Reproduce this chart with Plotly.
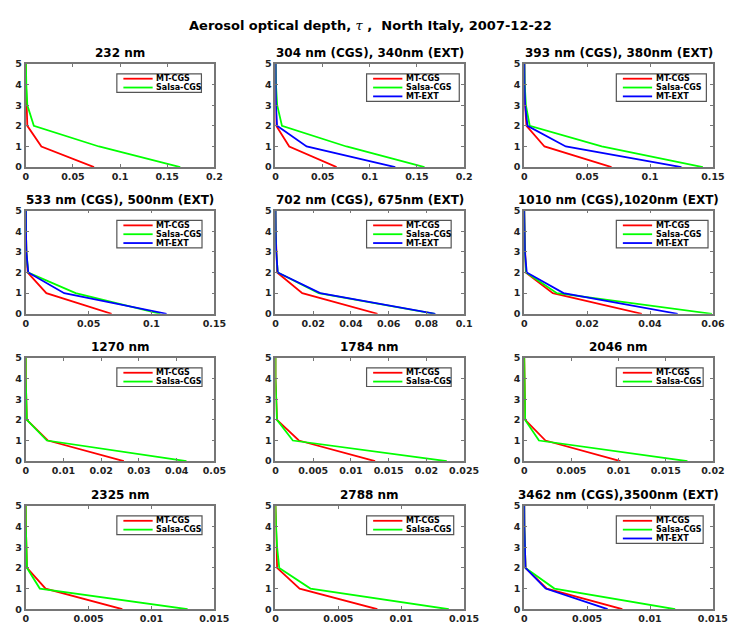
import plotly.graph_objects as go

# ---------------------------------------------------------------- data
altitude = [0, 1, 2, 3, 4, 5]

panel_titles = [
    "232 nm",
    "304 nm (CGS), 340nm (EXT)",
    "393 nm (CGS), 380nm (EXT)",
    "533 nm (CGS), 500nm (EXT)",
    "702 nm (CGS), 675nm (EXT)",
    "1010 nm (CGS),1020nm (EXT)",
    "1270 nm",
    "1784 nm",
    "2046 nm",
    "2325 nm",
    "2788 nm",
    "3462 nm (CGS),3500nm (EXT)",
]

mt_cgs = [
    [0.0724, 0.0166, 0.0017, 0.0007, 0.0003, 0.0001],
    [0.0648, 0.0146, 0.0008, 0.0003, 0.0001, 0.0],
    [0.0694, 0.0161, 0.0018, 0.0006, 0.0002, 0.0001],
    [0.0683, 0.0164, 0.0016, 0.0005, 0.0002, 0.0001],
    [0.0541, 0.0142, 0.0009, 0.0003, 0.0001, 0.0],
    [0.0374, 0.0091, 0.0005, 0.0002, 0.0001, 0.0],
    [0.0260, 0.0059, 0.0003, 0.0001, 0.0, 0.0],
    [0.0132, 0.0031, 0.0002, 0.0001, 0.0, 0.0],
    [0.0102, 0.00225, 0.0001, 0.00004, 0.00001, 0.0],
    [0.00768, 0.00158, 0.0001, 0.00003, 0.00001, 0.0],
    [0.0081, 0.00192, 0.00013, 0.00008, 0.00003, 0.0],
    [0.0078, 0.0018, 0.0001, 0.00004, 0.00001, 0.0],
]

salsa_cgs = [
    [0.1638, 0.0776, 0.0086, 0.0017, 0.0006, 0.0002],
    [0.1580, 0.0752, 0.0069, 0.0018, 0.0005, 0.0002],
    [0.1420, 0.0616, 0.0044, 0.0013, 0.0004, 0.0001],
    [0.1070, 0.0397, 0.0020, 0.0005, 0.0002, 0.0001],
    [0.0844, 0.0229, 0.0012, 0.0004, 0.0001, 0.0],
    [0.0597, 0.0104, 0.0006, 0.0002, 0.0001, 0.0],
    [0.0426, 0.0056, 0.0003, 0.0001, 0.0, 0.0],
    [0.0227, 0.0023, 0.0002, 0.0001, 0.0, 0.0],
    [0.0173, 0.00156, 0.0001, 0.00004, 0.00001, 0.0],
    [0.01287, 0.00112, 0.0001, 0.00003, 0.00001, 0.0],
    [0.01378, 0.00278, 0.0003, 0.00013, 0.00005, 0.0],
    [0.0120, 0.0024, 0.0001, 0.00004, 0.00001, 0.0],
]

mt_ext = [
    None,
    [0.1270, 0.0330, 0.0017, 0.0005, 0.0002, 0.0001],
    [0.1250, 0.0330, 0.0026, 0.0007, 0.0002, 0.0001],
    [0.1120, 0.0306, 0.0020, 0.0005, 0.0002, 0.0001],
    [0.0848, 0.0237, 0.0012, 0.0004, 0.0001, 0.0],
    [0.0488, 0.0125, 0.0008, 0.0002, 0.0001, 0.0],
    None,
    None,
    None,
    None,
    None,
    [0.00663, 0.0017, 0.0001, 0.00004, 0.00001, 0.0],
]

x_tickvals = [
    [0, 0.05, 0.1, 0.15, 0.2],
    [0, 0.05, 0.1, 0.15, 0.2],
    [0, 0.05, 0.1, 0.15],
    [0, 0.05, 0.1, 0.15],
    [0, 0.02, 0.04, 0.06, 0.08, 0.1],
    [0, 0.02, 0.04, 0.06],
    [0, 0.01, 0.02, 0.03, 0.04, 0.05],
    [0, 0.005, 0.01, 0.015, 0.02, 0.025],
    [0, 0.005, 0.01, 0.015, 0.02],
    [0, 0.005, 0.01, 0.015],
    [0, 0.005, 0.01, 0.015],
    [0, 0.005, 0.01, 0.015],
]
y_tickvals = [0, 1, 2, 3, 4, 5]

series_names = ["MT-CGS", "Salsa-CGS", "MT-EXT"]
series_colors = ["#ff0000", "#00ff00", "#0000ff"]

# ---------------------------------------------------------------- layout geometry (px)
W, H = 736, 626
col_left = [23.3, 279.3, 534.3]
row_top = [59.0, 208.3, 358.3, 509.0]
plot_w, plot_h = 193.4, 105.0

# legend box: gap from the right frame edge and box width, per panel (px)
legend_gap = [13.3, 5.0, 6.7, 12.7, 13.3, 5.0, 12.7, 13.3, 10.0, 12.7, 10.7, 10.0]
legend_width = [86.7, 95.0, 92.3, 87.3, 86.7, 94.0, 87.3, 86.7, 89.0, 87.3, 89.3, 89.0]

FONT = "DejaVu Sans"
FRAME = "#767676"

fig = go.Figure()
shapes, annotations = [], []

for i in range(12):
    n = i + 1
    r, c = divmod(i, 3)
    xa = "x" if n == 1 else f"x{n}"
    ya = "y" if n == 1 else f"y{n}"
    left, top = col_left[c], row_top[r]

    series = [mt_cgs[i], salsa_cgs[i], mt_ext[i]]
    for s, vals in enumerate(series):
        if vals is None:
            continue
        fig.add_trace(go.Scatter(
            x=vals, y=altitude, mode="lines", name=series_names[s],
            line=dict(color=series_colors[s], width=1.8),
            xaxis=xa, yaxis=ya, showlegend=False, cliponaxis=True,
        ))

    axis_common = dict(
        showline=True, mirror="allticks", linecolor=FRAME, linewidth=1.7,
        ticks="inside", ticklen=3, tickwidth=1, tickcolor=FRAME,
        showgrid=False, zeroline=False,
        tickfont=dict(family=FONT, size=9.5, color="#222222", weight="bold"),
    )
    fig.layout[f"xaxis{'' if n == 1 else n}"] = dict(
        axis_common,
        domain=[left / W, (left + plot_w) / W],
        anchor=ya, range=[0, x_tickvals[i][-1]],
        tickvals=x_tickvals[i], ticktext=[f"{v:g}" for v in x_tickvals[i]],
    )
    fig.layout[f"yaxis{'' if n == 1 else n}"] = dict(
        axis_common,
        domain=[1 - (top + plot_h) / H, 1 - top / H],
        anchor=xa, range=[0, 5], tickvals=y_tickvals,
        ticklabelstandoff=0,
    )

    # panel title
    annotations.append(dict(
        text=f"<b>{panel_titles[i]}</b>", xref="paper", yref="paper",
        x=(left + plot_w / 2) / W, y=1 - (top - 2) / H,
        xanchor="center", yanchor="bottom", showarrow=False,
        font=dict(family=FONT, size=12, color="#000000"),
    ))

    # legend box drawn in axis-domain coordinates
    entries = [s for s in range(3) if series[s] is not None]
    box_h = 10 + 9 * (len(entries) - 1)
    bx1 = plot_w - legend_gap[i]
    bx0 = bx1 - legend_width[i]
    by0 = 10.0
    by1 = by0 + box_h
    dx = f"{xa} domain"
    dy = f"{ya} domain"
    shapes.append(dict(
        type="rect", xref=dx, yref=dy,
        x0=bx0 / plot_w, x1=bx1 / plot_w,
        y0=1 - by1 / plot_h, y1=1 - by0 / plot_h,
        line=dict(color="#555555", width=1.2), fillcolor="white", layer="above",
    ))
    for k, s in enumerate(entries):
        yy = by0 + 5 + 9 * k
        shapes.append(dict(
            type="line", xref=dx, yref=dy,
            x0=(bx0 + 6.7) / plot_w, x1=(bx0 + 36.7) / plot_w,
            y0=1 - yy / plot_h, y1=1 - yy / plot_h,
            line=dict(color=series_colors[s], width=1.8), layer="above",
        ))
        annotations.append(dict(
            text=f"<b>{series_names[s]}</b>", xref=dx, yref=dy,
            x=(bx0 + 38.5) / plot_w, y=1 - yy / plot_h,
            xanchor="left", yanchor="middle", showarrow=False,
            font=dict(family=FONT, size=8, color="#000000"),
        ))

annotations.append(dict(
    text=("<b>Aerosol optical depth, </b>"
          "<span style=\"font-family:'DejaVu Serif';font-weight:normal\"><i>τ</i></span>"
          "<b> ,  North Italy, 2007-12-22</b>"),
    xref="paper", yref="paper", x=377 / W, y=1 - 20 / H,
    xanchor="center", yanchor="middle", showarrow=False,
    font=dict(family=FONT, size=13, color="#000000"),
))

fig.update_layout(
    width=W, height=H, margin=dict(l=0, r=0, t=0, b=0),
    paper_bgcolor="white", plot_bgcolor="white",
    shapes=shapes, annotations=annotations, showlegend=False,
)

fig.write_html("out.html")
